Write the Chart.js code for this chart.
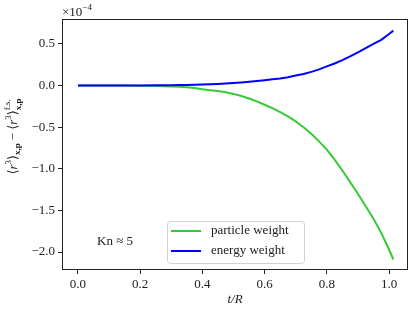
<!DOCTYPE html>
<html>
<head>
<meta charset="utf-8">
<script src="https://cdn.jsdelivr.net/npm/chart.js@4.4.1/dist/chart.umd.min.js"></script>
<style>
  html, body { margin: 0; padding: 0; background: #fff; }
  #wrap { width: 415px; height: 314px; }
</style>
</head>
<body>
<div id="wrap"><canvas id="chart" width="415" height="314"></canvas></div>
<script>
// temps réduit t/R
const tR = [0, 0.05, 0.1, 0.15, 0.2, 0.25, 0.3, 0.325, 0.35, 0.375, 0.4, 0.425, 0.45, 0.475,
  0.5, 0.525, 0.55, 0.575, 0.6, 0.625, 0.65, 0.675, 0.7, 0.725, 0.75, 0.775, 0.8, 0.825,
  0.85, 0.875, 0.9, 0.925, 0.95, 0.975, 1.0, 1.014];

// écart <r^3>, en unités de 1e-4
const particleWeight = [0, 0, 0, 0, -0.002, -0.005, -0.01, -0.015, -0.02, -0.03, -0.045, -0.055,
  -0.065, -0.08, -0.10, -0.125, -0.155, -0.19, -0.23, -0.27, -0.32, -0.37, -0.43, -0.50, -0.58,
  -0.67, -0.77, -0.89, -1.02, -1.16, -1.30, -1.45, -1.60, -1.77, -1.97, -2.09];
const energyWeight = [0, 0, 0, 0.001, 0.002, 0.003, 0.005, 0.006, 0.008, 0.010, 0.012, 0.016,
  0.02, 0.025, 0.03, 0.037, 0.045, 0.055, 0.065, 0.075, 0.085, 0.10, 0.12, 0.14, 0.165, 0.195,
  0.23, 0.265, 0.305, 0.35, 0.40, 0.45, 0.50, 0.55, 0.62, 0.66];

const seriesLabels = ['particle weight', 'energy weight'];
const xTicks = [0.0, 0.2, 0.4, 0.6, 0.8, 1.0];
const yTicks = [-2.0, -1.5, -1.0, -0.5, 0.0, 0.5];

const SERIF = '"Liberation Serif", "DejaVu Serif", serif';
const INK = '#222';

function pts(ys) {
  return tR.map((x, i) => ({ x: x, y: ys[i] }));
}

function fmt(v) {
  return v.toFixed(1).replace('-', '\u2212');
}

// petits morceaux de texte avec indices / exposants
function drawRuns(ctx, runs, x, y) {
  let cx = x;
  runs.forEach(r => {
    ctx.font = r.font;
    ctx.fillText(r.t, cx, y + (r.dy || 0));
    if (!r.stack) cx += ctx.measureText(r.t).width + (r.gap || 0);
  });
  return cx;
}
function runsWidth(ctx, runs) {
  let w = 0;
  runs.forEach(r => {
    ctx.font = r.font;
    if (!r.stack) w += ctx.measureText(r.t).width + (r.gap || 0);
  });
  return w;
}

const decor = {
  id: 'decor',
  afterDraw(chart) {
    const ctx = chart.ctx;
    const a = chart.chartArea;
    ctx.save();
    // cadre
    ctx.strokeStyle = INK;
    ctx.lineWidth = 1;
    ctx.strokeRect(Math.round(a.left) + 0.5, Math.round(a.top) + 0.5,
      Math.round(a.right - a.left) - 1, Math.round(a.bottom - a.top) - 1);

    ctx.fillStyle = INK;
    ctx.textBaseline = 'alphabetic';
    ctx.textAlign = 'left';

    // multiplicateur
    drawRuns(ctx, [
      { t: '\u00d710', font: '13px ' + SERIF },
      { t: '\u22124', font: '9px ' + SERIF, dy: -6 }
    ], a.left, 16);

    // Kn
    ctx.font = '13px ' + SERIF;
    ctx.fillText('Kn \u2248 5', 97, 245);

    // titre axe x
    ctx.font = 'italic 13px ' + SERIF;
    ctx.textAlign = 'center';
    ctx.fillText('t/R', (a.left + a.right) / 2, 303);

    // titre axe y
    const big = '13px ' + SERIF, ital = 'italic 13px ' + SERIF;
    const sm = '9px ' + SERIF, smb = 'bold 9px ' + SERIF;
    const runs = [
      { t: '\u27e8', font: big },
      { t: 'r', font: ital },
      { t: '3', font: sm, dy: -6 },
      { t: '\u27e9', font: big },
      { t: 'x,p', font: smb, dy: 3, gap: 3 },
      { t: '\u2212', font: big, gap: 3 },
      { t: '\u27e8', font: big },
      { t: 'r', font: ital },
      { t: '3', font: sm, dy: -6 },
      { t: '\u27e9', font: big },
      { t: 'f.s.', font: sm, dy: -7, stack: true },
      { t: 'x,p', font: smb, dy: 4 }
    ];
    ctx.textAlign = 'left';
    const w = runsWidth(ctx, runs);
    ctx.translate(17, (a.top + a.bottom) / 2 - 8);
    ctx.rotate(-Math.PI / 2);
    drawRuns(ctx, runs, -w / 2, 0);
    ctx.setTransform(1, 0, 0, 1, 0, 0);

    // légende
    const lx = 167, ly = 221, lw = 137, lh = 42;
    ctx.beginPath();
    ctx.roundRect(lx + 0.5, ly + 0.5, lw, lh, 3);
    ctx.fillStyle = 'rgba(255,255,255,0.85)';
    ctx.fill();
    ctx.strokeStyle = '#d0d0d0';
    ctx.stroke();
    chart.data.datasets.forEach((ds, i) => {
      const yy = 231 + i * 20;
      ctx.strokeStyle = ds.borderColor;
      ctx.lineWidth = 2;
      ctx.beginPath();
      ctx.moveTo(171, yy);
      ctx.lineTo(201, yy);
      ctx.stroke();
      ctx.fillStyle = INK;
      ctx.font = '13px ' + SERIF;
      ctx.textBaseline = 'middle';
      ctx.fillText(ds.label, 211, yy);
    });
    ctx.restore();
  }
};

new Chart(document.getElementById('chart'), {
  type: 'line',
  data: {
    datasets: [
      { label: seriesLabels[0], data: pts(particleWeight), borderColor: '#33cc33',
        borderWidth: 2, pointRadius: 0, fill: false, order: 1 },
      { label: seriesLabels[1], data: pts(energyWeight), borderColor: '#0000ff',
        borderWidth: 2, pointRadius: 0, fill: false, order: 0 }
    ]
  },
  options: {
    responsive: false,
    animation: false,
    layout: { padding: { top: 19, right: 7, left: 0, bottom: 0 } },
    plugins: { legend: { display: false }, tooltip: { enabled: false } },
    scales: {
      x: {
        type: 'linear',
        min: -0.0514,
        max: 1.061,
        afterBuildTicks: s => { s.ticks = xTicks.map(v => ({ value: v })); },
        afterFit: s => { s.height = 44; },
        grid: { drawOnChartArea: false, drawTicks: true, tickLength: 4, color: INK },
        border: { display: false },
        ticks: { color: INK, padding: 3, maxRotation: 0, font: { family: SERIF, size: 13 },
          callback: v => fmt(v) }
      },
      y: {
        type: 'linear',
        min: -2.216,
        max: 0.80,
        afterBuildTicks: s => { s.ticks = yTicks.map(v => ({ value: v })); },
        afterFit: s => { s.width = 62; },
        grid: { drawOnChartArea: false, drawTicks: true, tickLength: 4, color: INK },
        border: { display: false },
        ticks: { color: INK, padding: 3, font: { family: SERIF, size: 13 },
          callback: v => fmt(v) }
      }
    }
  },
  plugins: [decor]
});
</script>
</body>
</html>
